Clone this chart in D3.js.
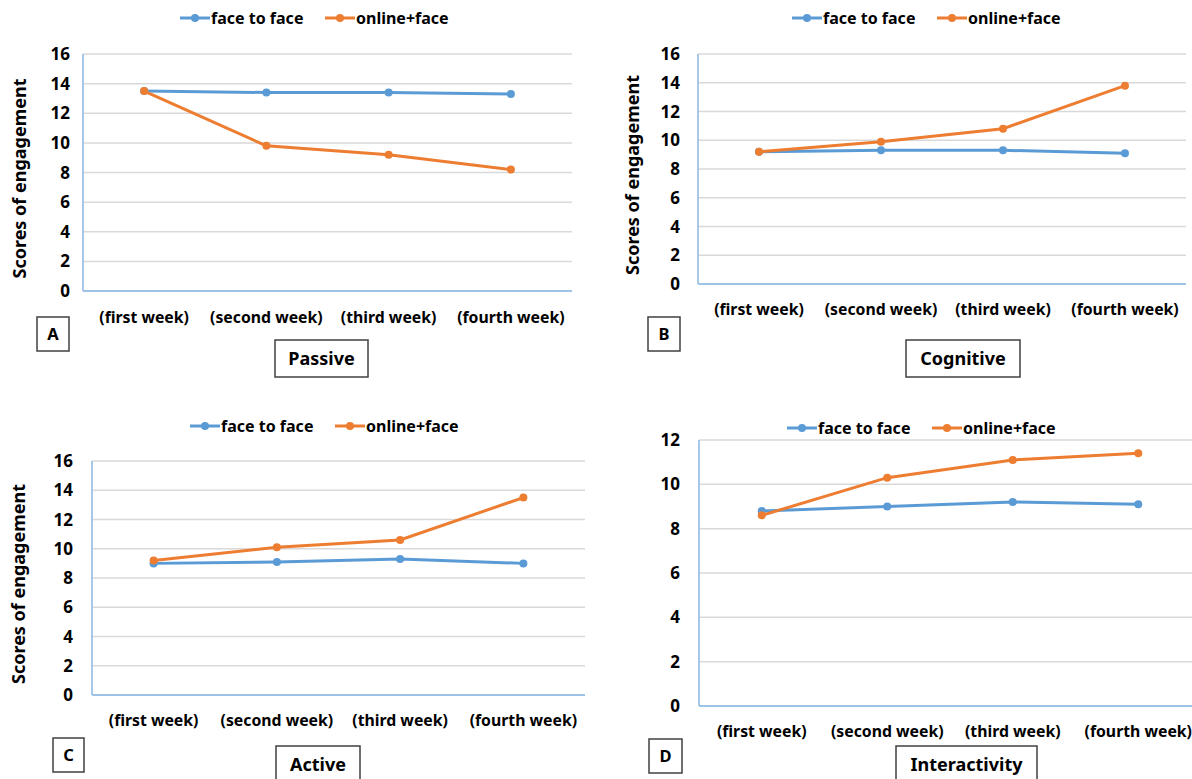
<!DOCTYPE html>
<meta charset="utf-8">
<head>
  <title>Scores of engagement</title>
</head>

<style>
body { margin: 0; background: #fff; }
text {
  font-family: "Noto Sans", "Open Sans", sans-serif;
  font-weight: bold;
  fill: #000;
}
.grid line { stroke: #d9d9d9; stroke-width: 1.5; }
.axisline { stroke: #9dc3e6; stroke-width: 1.8; }
.box { fill: none; stroke: #404040; stroke-width: 1.5; }
</style>

<body>
  <svg width="1192" height="779"></svg>

  <script src="https://cdnjs.cloudflare.com/ajax/libs/d3/7.8.5/d3.min.js"></script>
  <script>

const weeks = ["(first week)", "(second week)", "(third week)", "(fourth week)"];
const seriesNames = ["face to face", "online+face"];
const seriesColors = ["#5b9bd5", "#ed7d31"];

const passiveFace = [13.5, 13.4, 13.4, 13.3];
const passiveOnline = [13.5, 9.8, 9.2, 8.2];
const cognitiveFace = [9.2, 9.3, 9.3, 9.1];
const cognitiveOnline = [9.2, 9.9, 10.8, 13.8];
const activeFace = [9.0, 9.1, 9.3, 9.0];
const activeOnline = [9.2, 10.1, 10.6, 13.5];
const interFace = [8.8, 9.0, 9.2, 9.1];
const interOnline = [8.6, 10.3, 11.1, 11.4];

const ticks16 = [0, 2, 4, 6, 8, 10, 12, 14, 16];
const ticks12 = [0, 2, 4, 6, 8, 10, 12];

// layout of the four panels (pixels)
const panels = [
  { letter: "A", title: "Passive", face: passiveFace, online: passiveOnline, ticks: ticks16,
    x0: 83, x1: 572, y0: 291, y1: 54, tickGap: 13, xlabY: 317, legX: 180, legY: 18,
    ytitleX: 20, letterBox: [37, 317, 32, 34], titleBox: [275, 340, 93, 37] },
  { letter: "B", title: "Cognitive", face: cognitiveFace, online: cognitiveOnline, ticks: ticks16,
    x0: 698, x1: 1186, y0: 284, y1: 54, tickGap: 18, xlabY: 309, legX: 792, legY: 18,
    ytitleX: 633, letterBox: [648, 317, 32, 34], titleBox: [906, 340, 114, 37] },
  { letter: "C", title: "Active", face: activeFace, online: activeOnline, ticks: ticks16,
    x0: 92, x1: 585, y0: 695, y1: 461, tickGap: 19, xlabY: 720, legX: 190, legY: 426,
    ytitleX: 19, letterBox: [53, 738, 31, 34], titleBox: [276, 746, 84, 40] },
  { letter: "D", title: "Interactivity", face: interFace, online: interOnline, ticks: ticks12,
    x0: 699, x1: 1201, y0: 706, y1: 440, tickGap: 19, xlabY: 731, legX: 787, legY: 428,
    ytitleX: null, letterBox: [649, 739, 33, 34], titleBox: [896, 746, 141, 40] }
];

const svg = d3.select("svg");

panels.forEach(p => {
  const g = svg.append("g");

  const x = d3.scaleBand().domain(weeks).range([p.x0, p.x1]);
  const y = d3.scaleLinear().domain([0, d3.max(p.ticks)]).range([p.y0, p.y1]);

  // gridlines
  g.append("g").attr("class", "grid")
    .selectAll("line")
    .data(p.ticks.slice(1))
    .enter().append("line")
    .attr("x1", p.x0).attr("x2", p.x1)
    .attr("y1", d => y(d)).attr("y2", d => y(d));

  // axes lines
  g.append("line").attr("class", "axisline")
    .attr("x1", p.x0).attr("x2", p.x0).attr("y1", p.y1).attr("y2", p.y0);
  g.append("line").attr("class", "axisline")
    .attr("x1", p.x0).attr("x2", p.x1).attr("y1", p.y0).attr("y2", p.y0);

  // y tick labels
  g.selectAll(".ytick")
    .data(p.ticks)
    .enter().append("text")
    .attr("x", p.x0 - p.tickGap)
    .attr("y", d => y(d))
    .attr("dy", "0.36em")
    .attr("text-anchor", "end")
    .style("font-size", "17px")
    .text(d => d);

  // x labels
  g.selectAll(".xlab")
    .data(weeks)
    .enter().append("text")
    .attr("x", d => x(d) + x.bandwidth() / 2)
    .attr("y", p.xlabY)
    .attr("dy", "0.36em")
    .attr("text-anchor", "middle")
    .style("font-size", "15.8px")
    .text(d => d);

  // y title
  if (p.ytitleX !== null) {
    const cy = (p.y0 + p.y1) / 2 + 6;
    g.append("text")
      .attr("transform", `translate(${p.ytitleX},${cy}) rotate(-90)`)
      .attr("dy", "0.36em")
      .attr("text-anchor", "middle")
      .style("font-size", "18px")
      .text("Scores of engagement");
  }

  // series
  const line = d3.line()
    .x((d, i) => x(weeks[i]) + x.bandwidth() / 2)
    .y(d => y(d));

  [p.face, p.online].forEach((vals, si) => {
    g.append("path")
      .datum(vals)
      .attr("d", line)
      .attr("fill", "none")
      .attr("stroke", seriesColors[si])
      .attr("stroke-width", 3);
    g.selectAll(".pt" + si)
      .data(vals)
      .enter().append("circle")
      .attr("cx", (d, i) => x(weeks[i]) + x.bandwidth() / 2)
      .attr("cy", d => y(d))
      .attr("r", 4)
      .attr("fill", seriesColors[si]);
  });

  // legend
  seriesNames.forEach((name, si) => {
    const lx = p.legX + si * 145;
    g.append("line")
      .attr("x1", lx).attr("x2", lx + 30)
      .attr("y1", p.legY).attr("y2", p.legY)
      .attr("stroke", seriesColors[si]).attr("stroke-width", 3);
    g.append("circle")
      .attr("cx", lx + 15).attr("cy", p.legY).attr("r", 4)
      .attr("fill", seriesColors[si]);
    g.append("text")
      .attr("x", lx + 31).attr("y", p.legY)
      .attr("dy", "0.36em")
      .style("font-size", "16px")
      .text(name);
  });

  // letter box
  const lb = p.letterBox;
  g.append("rect").attr("class", "box")
    .attr("x", lb[0]).attr("y", lb[1]).attr("width", lb[2]).attr("height", lb[3])
    .attr("fill", "#fff");
  g.append("text")
    .attr("x", lb[0] + lb[2] / 2).attr("y", lb[1] + lb[3] / 2)
    .attr("dy", "0.36em").attr("text-anchor", "middle")
    .style("font-size", "16.5px")
    .text(p.letter);

  // title box
  const tb = p.titleBox;
  g.append("rect").attr("class", "box")
    .attr("x", tb[0]).attr("y", tb[1]).attr("width", tb[2]).attr("height", tb[3]);
  g.append("text")
    .attr("x", tb[0] + tb[2] / 2).attr("y", tb[1] + 19)
    .attr("dy", "0.36em").attr("text-anchor", "middle")
    .style("font-size", "18px")
    .text(p.title);
});

  </script>
</body>
</html>
